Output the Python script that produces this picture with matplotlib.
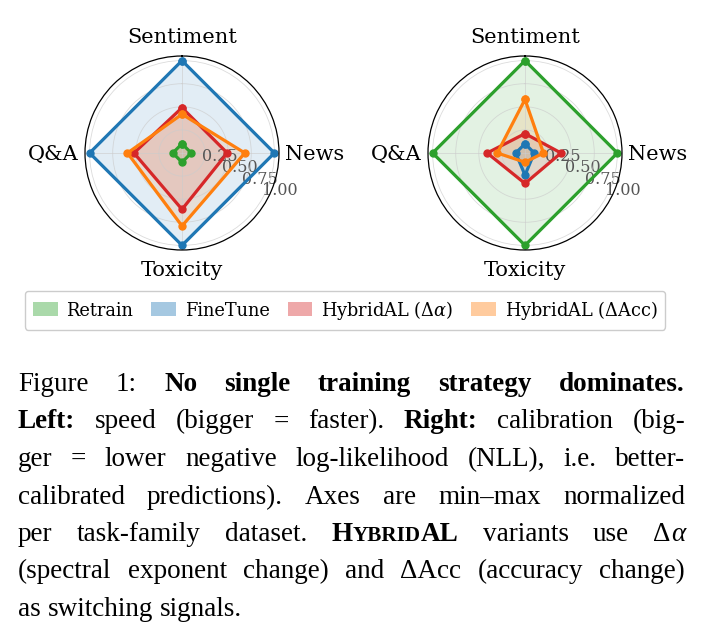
import numpy as np
import matplotlib
matplotlib.use('Agg')
from matplotlib import pyplot as plt
from matplotlib.patches import Patch

categories = ['Sentiment', 'News', 'Toxicity', 'Q&A']
methods = ['Retrain', 'FineTune', r'HybridAL ($\Delta\alpha$)', r'HybridAL ($\Delta$Acc)']
colors = ['tab:green', 'tab:blue', 'tab:red', 'tab:orange']

# left panel: speed (bigger = faster)
speed_retrain = [0.10, 0.10, 0.10, 0.10]
speed_finetune = [1.00, 1.00, 1.00, 1.00]
speed_hyb_alpha = [0.49, 0.49, 0.61, 0.52]
speed_hyb_acc = [0.42, 0.68, 0.79, 0.59]

# right panel: calibration (bigger = lower NLL)
calib_retrain = [1.00, 1.00, 1.00, 1.00]
calib_finetune = [0.10, 0.10, 0.24, 0.10]
calib_hyb_alpha = [0.21, 0.39, 0.33, 0.41]
calib_hyb_acc = [0.58, 0.20, 0.10, 0.30]

rticks = [0.25, 0.5, 0.75, 1.0]
rtick_labels = ['0.25', '0.50', '0.75', '1.00']

caption = [
    "Figure 1: **No single training strategy dominates.**",
    "**Left:** speed (bigger = faster). **Right:** calibration (big-",
    "ger = lower negative log-likelihood (NLL), i.e. better-",
    "calibrated predictions). Axes are min\u2013max normalized",
    "per task-family dataset. **HybridAL** variants use \u0394\u03b1",
    "(spectral exponent change) and \u0394Acc (accuracy change)",
    "as switching signals.",
]

plt.rcParams['font.family'] = 'DejaVu Serif'
plt.rcParams['mathtext.fontset'] = 'dejavuserif'

W, H = 703, 630
fig = plt.figure(figsize=(W / 100, H / 100), dpi=100)

theta = np.linspace(0, 2 * np.pi, len(categories), endpoint=False)
RMAX = 1.05

# where each category name sits around the circle (offset in points)
cat_offsets = [(0, 9.5), (4.5, 0), (0, -8), (-4.5, 0)]
cat_align = [('center', 'baseline'), ('left', 'center_baseline'),
             ('center', 'top'), ('right', 'center_baseline')]


def radar(ax, series):
    ax.set_theta_offset(np.pi / 2)
    ax.set_theta_direction(-1)
    for vals, c in zip(series, colors):
        v = np.concatenate([vals, vals[:1]])
        t = np.concatenate([theta, theta[:1]])
        ax.plot(t, v, color=c, lw=2.3, marker='o', ms=5)
        ax.fill(t, v, color=c, alpha=0.13)
    ax.set_ylim(0, RMAX)
    ax.set_xticks(theta)
    ax.set_xticklabels([])
    for th, name, off, (ha, va) in zip(theta, categories, cat_offsets, cat_align):
        ax.annotate(name, xy=(th, RMAX), xytext=off, textcoords='offset points',
                    ha=ha, va=va, fontsize=15, annotation_clip=False)
    ax.set_yticks(rticks)
    ax.set_yticklabels(rtick_labels, fontsize=11.5, color='#555555')
    ax.set_rlabel_position(120)
    ax.grid(color='#cccccc', lw=0.6, alpha=0.7)
    ax.spines['polar'].set_linewidth(0.9)


ax1 = fig.add_axes([85 / W, 1 - 250 / H, 194 / W, 194 / H], projection='polar')
radar(ax1, [speed_retrain, speed_finetune, speed_hyb_alpha, speed_hyb_acc])
ax2 = fig.add_axes([428 / W, 1 - 250 / H, 194 / W, 194 / H], projection='polar')
radar(ax2, [calib_retrain, calib_finetune, calib_hyb_alpha, calib_hyb_acc])

handles = [Patch(facecolor=c, alpha=0.4, label=m) for c, m in zip(colors, methods)]
fig.legend(handles=handles, loc='center', bbox_to_anchor=(345 / W, 1 - 310 / H),
           ncol=4, fontsize=12.8, handlelength=1.4, handleheight=0.85,
           columnspacing=1.0, handletextpad=0.5, borderpad=0.45,
           framealpha=1, edgecolor='#cccccc')

# caption, justified by hand
cap_font = 'Liberation Serif'
cap_size = 19.5
x0, x1 = 18, 685
base0, step = 391, 37.5
renderer = fig.canvas.get_renderer()


def word_pieces(word, bold):
    w = 'bold' if bold else 'normal'
    if word == 'HybridAL':
        return [('H', w, 1.0, 'normal'), ('YBRID', w, 0.78, 'normal'), ('AL', w, 1.0, 'normal')]
    out = []
    parts = word.split('\u03b1')
    for i, p in enumerate(parts):
        if p:
            out.append((p, w, 1.0, 'normal'))
        if i < len(parts) - 1:
            out.append(('\u03b1', w, 1.0, 'italic'))
    return out


probe = fig.text(0, 0, 'a b', fontsize=cap_size, family=cap_font)
sw = probe.get_window_extent(renderer).width
probe.set_text('ab')
sw -= probe.get_window_extent(renderer).width
probe.remove()

for li, line in enumerate(caption):
    y = 1 - (base0 + li * step) / H
    words = []
    bold = False
    for tok in line.split(' '):
        if tok.startswith('**'):
            bold = True
            tok = tok[2:]
        end_bold = tok.endswith('**')
        if end_bold:
            tok = tok[:-2]
        words.append(word_pieces(tok, bold))
        if end_bold:
            bold = False
    items = []
    widths = []
    for pcs in words:
        wt = []
        total = 0
        for txt, wgt, scale, sty in pcs:
            t = fig.text(0, y, txt, fontsize=cap_size * scale, fontweight=wgt, style=sty,
                         family=cap_font, va='baseline', ha='left')
            bw = t.get_window_extent(renderer).width
            wt.append((t, bw))
            total += bw
        items.append(wt)
        widths.append(total)
    if li < len(caption) - 1:
        gap = (x1 - x0 - sum(widths)) / (len(words) - 1)
    else:
        gap = sw
    x = x0
    for wt in items:
        for t, bw in wt:
            t.set_x(x / W)
            x += bw
        x += gap

fig.savefig('out.png', dpi=100)
